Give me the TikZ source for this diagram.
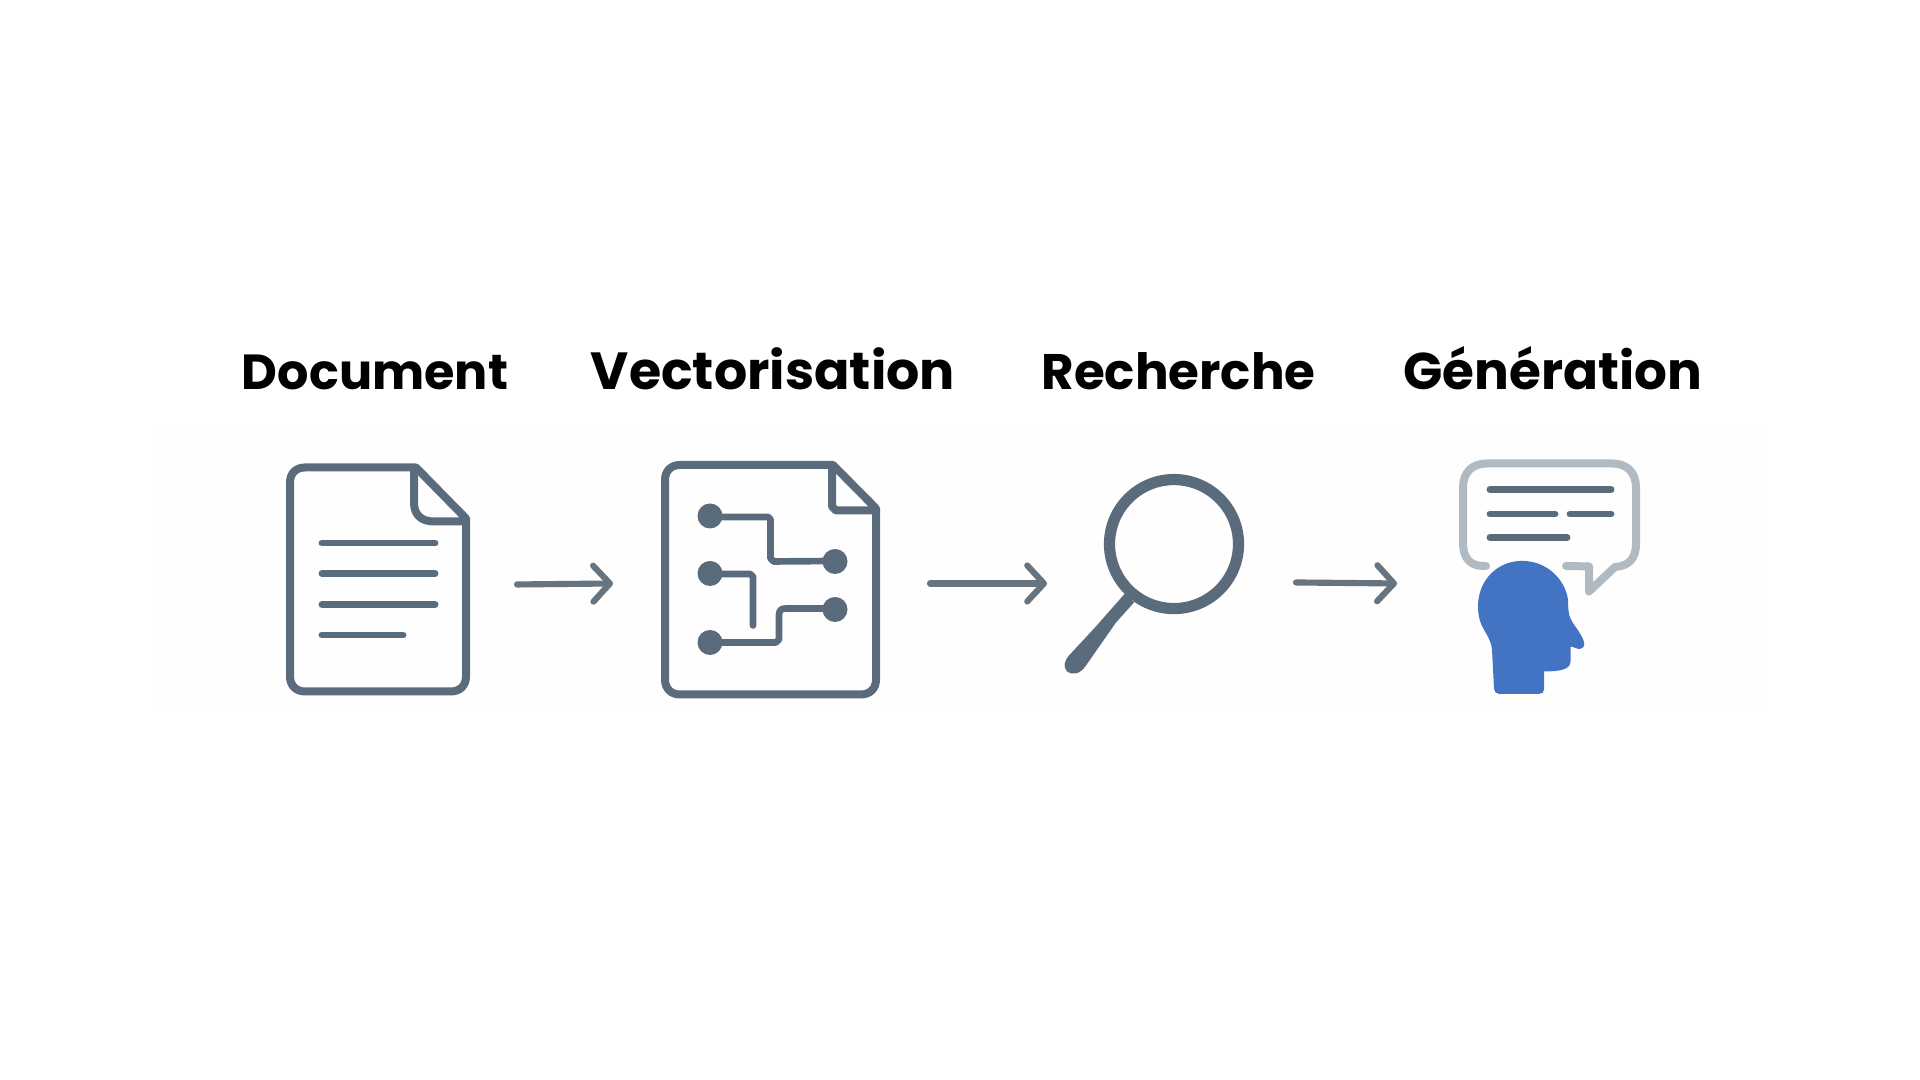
\documentclass[tikz,border=0pt]{standalone}
\usepackage{fontspec}
\usetikzlibrary{arrows.meta}
\setmainfont{Poppins}[BoldFont=* Bold]
\definecolor{slate}{HTML}{5A6B7B}
\definecolor{arrowgray}{HTML}{66747F}
\definecolor{bubblegray}{HTML}{B0BAC3}
\definecolor{headblue}{HTML}{4374C4}
\definecolor{panel}{HTML}{FEFEFE}
\tikzset{
  iconline/.style={draw=slate,line width=6pt,line join=round,line cap=round},
  traceline/.style={draw=slate,line width=5pt,line join=round,line cap=round},
  textline/.style={draw=slate,line width=5.2pt,line cap=round},
  pin/.style={fill=slate,draw=none},
  flow/.style={draw=arrowgray,line width=4.6pt,line cap=round,
    -{Straight Barb[length=12.5pt,width=27pt,line width=4.6pt,round]}},
  title/.style={anchor=base,inner sep=0pt,text=black,font=\bfseries},
}
\newcommand{\titlebox}[2]{\resizebox{#1}{!}{#2}}
\begin{document}
\begin{tikzpicture}[x=0.75pt,y=-0.75pt]
\useasboundingbox (0,0) rectangle (1920,1080);
\fill[white] (0,0) rectangle (1920,1080);
\fill[panel] (153,428) rectangle (1765,710);

% titles
\node[title] (t1) at (375,389.5) {\titlebox{199.5pt}{Document}};
\node[title] (t2) at (773,389.5) {\titlebox{273pt}{Vectorisation}};
\node[title] (t3) at (1178.5,389.5) {\titlebox{205.5pt}{Recherche}};
\node[title] (t4) at (1553,389.5) {\titlebox{224pt}{Génération}};

\begin{scope}[yshift=1.9pt]
% document icon
\draw[iconline] (416,470) -- (305,470) .. controls (296,470) and (290,476) .. (290,485)
  -- (290,679) .. controls (290,688) and (296,694) .. (305,694)
  -- (451,694) .. controls (460,694) and (466,688) .. (466,679)
  -- (466,521) -- cycle;
\draw[iconline] (414,472) -- (414,505) .. controls (414,518) and (422,524) .. (434,524) -- (466,524);
\draw[textline] (322,545.5) -- (435,545.5);
\draw[textline] (322,576) -- (435,576);
\draw[textline] (322,607) -- (435,607);
\draw[textline] (322,637.5) -- (403,637.5);

% vectorisation icon
\draw[iconline] (833,467.5) -- (680,467.5) .. controls (671,467.5) and (665,473.5) .. (665,482.5)
  -- (665,682) .. controls (665,691) and (671,697) .. (680,697)
  -- (861,697) .. controls (870,697) and (876,691) .. (876,682)
  -- (876,511) -- cycle;
\draw[iconline] (832,469) -- (832,509) -- (836,513) -- (876,513);
\draw[traceline] (710,519.5) -- (768,519.5) -- (770.5,522) -- (770.5,561) -- (773.5,564) -- (835,563.5);
\draw[traceline] (710,576.5) -- (750,576.5) -- (753,579) -- (753,628);
\draw[traceline] (710,645) -- (776,645) -- (779,642) -- (779,618) .. controls (779,613) and (781,611) .. (786,611) -- (835,611);
\fill[pin] (710,518.5) circle[radius=12.5];
\fill[pin] (710,576) circle[radius=12.5];
\fill[pin] (710,645) circle[radius=12.5];
\fill[pin] (835,564) circle[radius=12.5];
\fill[pin] (835,612) circle[radius=12.5];

% magnifier
\draw[draw=slate,line width=8.4pt] (1174,546.6) circle[radius=64.5];
\fill[slate] (1125,596) -- (1134,605) -- (1116,625) -- (1086,668)
  .. controls (1080,677) and (1072,678) .. (1067,674)
  .. controls (1063,669) and (1064,664) .. (1069,658) -- (1095,630) -- cycle;

% generation icon
\draw[draw=bubblegray,line width=6pt,line join=round,line cap=round]
  (1486,568.5) -- (1483,568.5) .. controls (1470,568.5) and (1463,560) .. (1463,546)
  -- (1463,490) .. controls (1463,475) and (1472,466) .. (1487,466)
  -- (1612,466) .. controls (1627,466) and (1636,475) .. (1636,490)
  -- (1636,546) .. controls (1636,560) and (1630,568.5) .. (1615,569.5)
  -- (1589,594) -- (1589,569) -- (1566,568.5);
\draw[textline] (1490,492) -- (1611,492);
\draw[textline] (1490,516.5) -- (1555,516.5);
\draw[textline] (1570,516.5) -- (1611,516.5);
\draw[textline] (1490,540) -- (1567,540);
\fill[headblue] (1522,563.4)
  .. controls (1547,563.4) and (1565,582) .. (1568,602)
  .. controls (1568,618) and (1570,620) .. (1572,624)
  .. controls (1577,632) and (1588,645) .. (1583,650)
  .. controls (1579,654) and (1574,649) .. (1570.5,649)
  -- (1570.5,664) .. controls (1570.5,672) and (1560,674) .. (1544,674)
  -- (1544,692) .. controls (1544,695) and (1542,696.4) .. (1539,696.4)
  -- (1499,696.4) .. controls (1496,696.4) and (1494,694) .. (1494,691)
  -- (1492,652) .. controls (1490,635) and (1478,632) .. (1478,609)
  .. controls (1478,582) and (1498,563.4) .. (1522,563.4) -- cycle;

% connectors
\coordinate (a1s) at (517,587);
\coordinate (a1e) at (613,586);
\coordinate (a2s) at (930,586);
\coordinate (a2e) at (1047,586);
\coordinate (a3s) at (1296,585);
\coordinate (a3e) at (1397,586);
\draw[flow] (a1s) -- (a1e);
\draw[flow] (a2s) -- (a2e);
\draw[flow] (a3s) -- (a3e);
\end{scope}
\end{tikzpicture}
\end{document}
